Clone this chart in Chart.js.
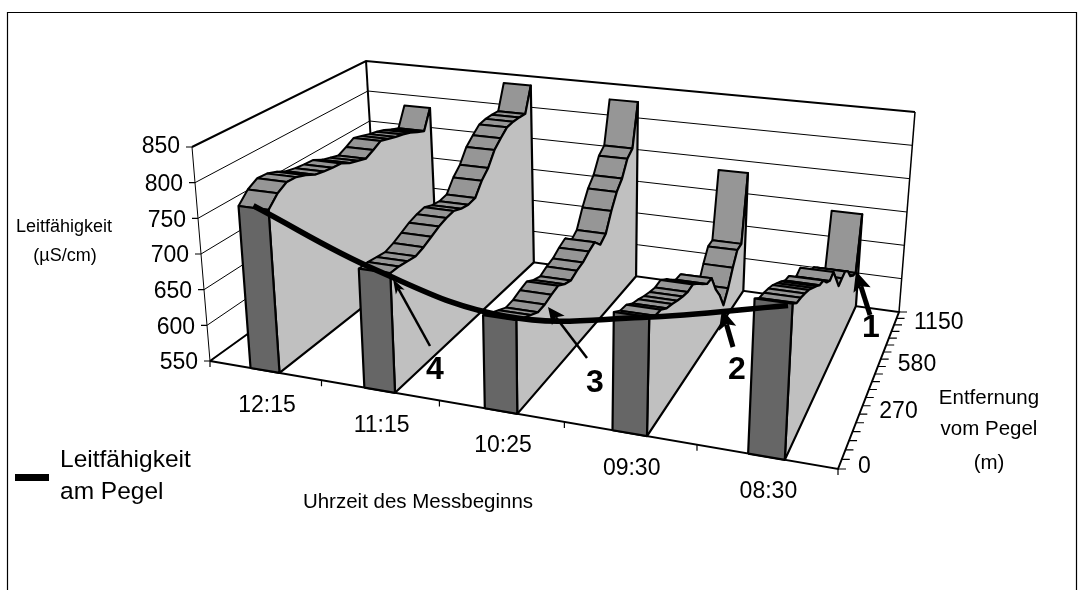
<!DOCTYPE html>
<html>
<head>
<meta charset="utf-8">
<style>
    html, body { margin: 0; background: #fff; }
    canvas { display: block; }
</style>
<script src="https://cdn.jsdelivr.net/npm/chart.js@4"></script>
</head>
<body>
<canvas id="chart" width="1082" height="590"></canvas>
<script>
// measuring times, left to right along the front axis
const times = ["12:15", "11:15", "10:25", "09:30", "08:30"];

// conductivity along the river, 21 stations front to back
const s1215 = [775, 790, 798, 797, 792, 785, 782, 780, 779, 772, 768, 764, 770, 777, 773, 769, 766, 762, 756, 751, 782];
const s1115 = [711, 711, 709, 707, 711, 717, 723, 727, 729, 724, 722, 724, 742, 754, 774, 785, 795, 797, 797, 796, 835];
const s1025 = [673, 666, 660, 654, 655, 659, 662, 655, 651, 656, 659, 666, 671, 659, 667, 693, 714, 727, 750, 759, 825];
const s0930 = [702, 694, 692, 684, 680, 675, 671, 668, 669, 661, 651, 642, 641, 616, 598, 574, 590, 612, 630, 631, 732];
const s0830 = [744, 735, 732, 728, 723, 716, 709, 701, 698, 686, 679, 682, 663, 644, 646, 647, 638, 622, 614, 609, 689];
const seriesList = [s1215, s1115, s1025, s0930, s0830];

// conductivity at the gauge, one per time
const pegel = [778, 712, 676, 700, 741];

const valueTicks = [550, 600, 650, 700, 750, 800, 850];
const depthLabels = { 0: "0", 6: "270", 12: "580", 18: "1150" };
const depthCount = 20;

// camera: screen corners of the floor and of the top of the box
const floorCorners = [[210, 361], [838, 469], [899, 312], [377, 241]];
const topCorners = [[192, 147], [853, 225], [915, 112], [366, 61]];

function homography(q) {
    const [[x0, y0], [x1, y1], [x2, y2], [x3, y3]] = q;
    const dx1 = x1 - x2, dx2 = x3 - x2, sx = x0 - x1 + x2 - x3;
    const dy1 = y1 - y2, dy2 = y3 - y2, sy = y0 - y1 + y2 - y3;
    const den = dx1 * dy2 - dx2 * dy1;
    const g = (sx * dy2 - dx2 * sy) / den;
    const h = (dx1 * sy - sx * dy1) / den;
    return (u, v) => {
        const w = g * u + h * v + 1;
        return [
            ((x1 - x0 + g * x1) * u + (x3 - x0 + h * x3) * v + x0) / w,
            ((y1 - y0 + g * y1) * u + (y3 - y0 + h * y3) * v + y0) / w
        ];
    };
}

const floorMap = homography(floorCorners);
const topMap = homography(topCorners);

function project(u, v, value) {
    const a = floorMap(u, v);
    const b = topMap(u, v);
    const t = (value - 550) / 300;
    return { x: a[0] + (b[0] - a[0]) * t, y: a[1] + (b[1] - a[1]) * t };
}

const gap = { x: null, y: null };
const painted = [];

function addPoly(points, fill, width) {
    painted.push({
        data: points, showLine: true, fill: "shape", backgroundColor: fill,
        borderColor: "#000", borderWidth: width, borderJoinStyle: "round", pointRadius: 0
    });
}

function addLines(points, width) {
    painted.push({
        data: points, showLine: true, fill: false,
        borderColor: "#000", borderWidth: width, pointRadius: 0
    });
}

// box: gridlines first, then floor and heavy edges
const grid = [];
valueTicks.slice(1, -1).forEach(val => {
    grid.push(project(0, 0, val), project(0, 1, val), project(1, 1, val), gap);
});
addLines(grid, 1);
addLines([project(0, 0, 550), project(0, 0, 850)], 1);
addLines([project(1, 1, 550), project(1, 1, 850)], 1.5);
addLines([project(0, 0, 850), project(0, 1, 850), project(1, 1, 850)], 2);
addLines([project(0, 1, 850), project(0, 1, 550)], 2);
addLines([project(0, 0, 550), project(1, 0, 550), project(1, 1, 550), project(0, 1, 550), project(0, 0, 550)], 2);

// axis ticks
const ticks = [];
times.concat("").forEach((t, i) => {
    const p = project(i / times.length, 0, 550);
    ticks.push(p, { x: p.x, y: p.y + 6 }, gap);
});
valueTicks.forEach(val => {
    const p = project(0, 0, val);
    ticks.push(p, { x: p.x - 6, y: p.y }, gap);
});
for (let i = 0; i <= depthCount; i++) {
    const p = project(1, i / depthCount, 550);
    ticks.push(p, { x: p.x + 8, y: p.y }, gap);
}
addLines(ticks, 1.2);

// walls, left one first so the nearer ones cover it
const halfWidth = 0.026;
seriesList.forEach((vals, s) => {
    const uc = (s + 0.5) / seriesList.length;
    const ul = uc - halfWidth, ur = uc + halfWidth;
    for (let i = vals.length - 2; i >= 0; i--) {
        const v0 = i / depthCount, v1 = (i + 1) / depthCount;
        addPoly([project(ul, v0, vals[i]), project(ul, v1, vals[i + 1]),
                 project(ur, v1, vals[i + 1]), project(ur, v0, vals[i]), project(ul, v0, vals[i])], "#969696", 2);
    }
    const side = [project(ur, 0, 550)];
    vals.forEach((val, i) => side.push(project(ur, i / depthCount, val)));
    side.push(project(ur, 1, 550), project(ur, 0, 550));
    addPoly(side, "#c0c0c0", 2.2);
    addPoly([project(ul, 0, 550), project(ul, 0, vals[0]), project(ur, 0, vals[0]),
             project(ur, 0, 550), project(ul, 0, 550)], "#666666", 2.2);
});

// gauge curve on top
painted.push({
    data: pegel.map((val, s) => project(0.1 + 0.205 * s, 0, val)),
    showLine: true, fill: false, borderColor: "#000", borderWidth: 5.5,
    tension: 0.4, pointRadius: 0
});

// hand-drawn callouts: number, tail, tip, stroke width, head size
const callouts = [
    { label: "1", at: [871, 328], from: [870, 315], to: [856, 271], width: 5, len: 16, wing: 9 },
    { label: "2", at: [737, 370], from: [733, 347], to: [722, 309], width: 5, len: 16, wing: 9 },
    { label: "3", at: [595, 383], from: [587, 358], to: [548, 307], width: 2.5, len: 13, wing: 8 },
    { label: "4", at: [435, 370], from: [430, 346], to: [393, 279], width: 2.5, len: 11, wing: 5 }
];

function drawArrow(ctx, c) {
    const ang = Math.atan2(c.to[1] - c.from[1], c.to[0] - c.from[0]);
    const back = [c.to[0] - Math.cos(ang) * c.len, c.to[1] - Math.sin(ang) * c.len];
    ctx.lineWidth = c.width;
    ctx.beginPath();
    ctx.moveTo(c.from[0], c.from[1]);
    ctx.lineTo(back[0], back[1]);
    ctx.stroke();
    ctx.beginPath();
    ctx.moveTo(c.to[0], c.to[1]);
    ctx.lineTo(back[0] - Math.cos(ang) * 4 - Math.sin(ang) * c.wing, back[1] - Math.sin(ang) * 4 + Math.cos(ang) * c.wing);
    ctx.lineTo(back[0], back[1]);
    ctx.lineTo(back[0] - Math.cos(ang) * 4 + Math.sin(ang) * c.wing, back[1] - Math.sin(ang) * 4 - Math.cos(ang) * c.wing);
    ctx.closePath();
    ctx.fill();
}

const textLayer = {
    id: "textLayer",
    afterDatasetsDraw(chart) {
        const ctx = chart.ctx;
        ctx.save();
        ctx.fillStyle = "#000";
        ctx.strokeStyle = "#000";

        // frame runs off the bottom of the picture
        ctx.lineWidth = 1.2;
        ctx.beginPath();
        ctx.moveTo(7.5, 600);
        ctx.lineTo(7.5, 12.5);
        ctx.lineTo(1076.5, 12.5);
        ctx.lineTo(1076.5, 600);
        ctx.stroke();

        callouts.forEach(c => drawArrow(ctx, c));

        ctx.textBaseline = "middle";
        ctx.font = "23px 'Liberation Sans'";
        ctx.textAlign = "right";
        valueTicks.forEach(val => {
            const p = project(0, 0, val);
            ctx.fillText(String(val), p.x - 12, p.y + (val === 850 ? 0 : 2));
        });
        ctx.textAlign = "center";
        times.forEach((t, i) => {
            const p = project((i + 0.5) / times.length, 0, 550);
            ctx.fillText(t, p.x + 2, p.y + 35);
        });
        ctx.textAlign = "left";
        Object.keys(depthLabels).forEach(i => {
            const p = project(1, i / depthCount, 550);
            ctx.fillText(depthLabels[i], p.x + 20, p.y - 2);
        });

        ctx.font = "24.5px 'Liberation Sans'";
        ctx.fillText("Leitfähigkeit", 60, 460);
        ctx.fillText("am Pegel", 60, 492);
        ctx.fillRect(15, 474, 34, 7);

        ctx.font = "18px 'Liberation Sans'";
        ctx.textAlign = "center";
        ctx.fillText("Leitfähigkeit", 64, 227);
        ctx.fillText("(µS/cm)", 65, 256);
        ctx.font = "20.5px 'Liberation Sans'";
        ctx.fillText("Uhrzeit des Messbeginns", 418, 502);
        ctx.fillText("Entfernung", 989, 398);
        ctx.fillText("vom Pegel", 989, 429);
        ctx.fillText("(m)", 989, 463);

        ctx.font = "bold 32px 'Liberation Sans'";
        callouts.forEach(c => ctx.fillText(c.label, c.at[0], c.at[1]));
        ctx.restore();
    }
};

new Chart(document.getElementById("chart"), {
    type: "scatter",
    data: { datasets: painted.slice().reverse() },
    options: {
        responsive: false,
        animation: false,
        layout: { padding: 0 },
        plugins: { legend: { display: false }, tooltip: { enabled: false } },
        scales: {
            x: { type: "linear", display: false, min: 0, max: 1082 },
            y: { type: "linear", display: false, min: 0, max: 590, reverse: true }
        }
    },
    plugins: [textLayer]
});
</script>
</body>
</html>
